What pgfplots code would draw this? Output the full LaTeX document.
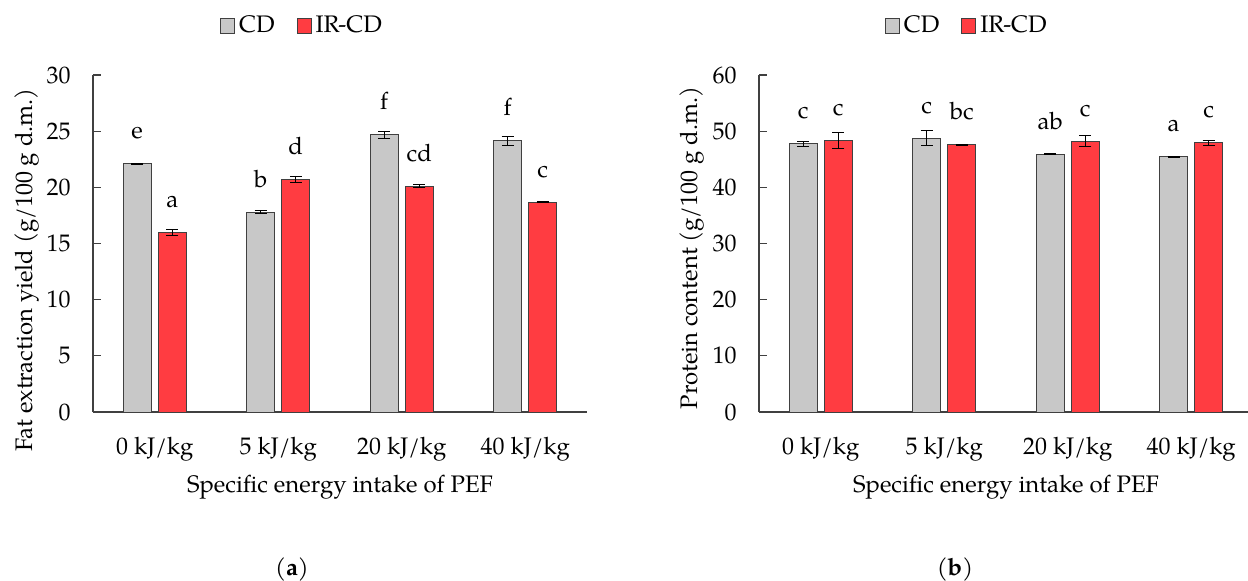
\documentclass[border=0pt,12pt]{standalone}
\usepackage{fontspec}
\setmainfont{TeX Gyre Pagella}
\usepackage{pgfplots}
\usepackage{pgfplotstable}
\pgfplotsset{compat=1.18}
\definecolor{cdgray}{HTML}{C8C8C8}
\definecolor{irred}{HTML}{FF3C41}
\definecolor{edge}{HTML}{404040}

\pgfplotstableread{
x y e l
0 22.09 0.05 e
1 17.79 0.16 b
2 24.67 0.34 f
3 24.16 0.41 f
}\fatCD
\pgfplotstableread{
x y e l
0 15.98 0.24 a
1 20.69 0.30 d
2 20.10 0.13 cd
3 18.68 0.03 c
}\fatIR
\pgfplotstableread{
x y e l
0 47.72 0.45 c
1 48.78 1.40 c
2 45.88 0.10 ab
3 45.41 0.05 a
}\protCD
\pgfplotstableread{
x y e l
0 48.37 1.45 c
1 47.54 0.10 bc
2 48.19 1.00 c
3 47.90 0.40 c
}\protIR

\pgfplotsset{
  panel/.style={
    scale only axis, height=168.5bp, anchor=south west,
    ymin=0, xmin=-0.5,
    axis x line*=bottom, axis y line*=left,
    axis line style={-, draw=black!75, line width=0.6bp},
    xtick={0,1,2,3}, xticklabels={0 kJ/kg,5 kJ/kg,20 kJ/kg,40 kJ/kg},
    x tick style={draw=none},
    tick align=inside, major tick length=4bp,
    y tick style={draw=black!75, line width=0.6bp},
    xticklabel style={inner sep=0pt, anchor=north, yshift=-8.5bp},
    yticklabel style={inner sep=0pt, anchor=east, xshift=-11bp},
    /pgf/number format/assume math mode=true,
    ybar, bar width=0.227,
    legend columns=2,
    legend style={draw=none, fill=none, anchor=center, inner sep=0pt,
      /tikz/every even column/.append style={column sep=9bp}},
    legend image code/.code={\draw[#1, draw=edge, line width=0.5bp] (0bp,-3.75bp) rectangle (7bp,3.75bp);},
    nodes near coords, point meta=explicit symbolic,
    every node near coord/.append style={anchor=base, yshift=12.5bp, inner sep=0pt, text=black},
  },
  barstyle/.style={draw=edge, line width=0.5bp,
    error bars/y dir=both, error bars/y explicit,
    error bars/error bar style={line width=0.5bp, draw=black},
    error bars/error mark options={rotate=90, line width=0.5bp, mark size=3bp, draw=black}},
}

\begin{document}
\begin{tikzpicture}
\useasboundingbox (0,0) rectangle (624bp,-290.5bp);

\begin{axis}[panel, at={(46.5bp,-206bp)}, width=247bp, xmax=3.5,
  ymax=30, ytick={0,5,...,30},
  legend style={at={(axis description cs:0.425,1.145)}}]
\addplot[barstyle, fill=cdgray, bar shift=-0.142] table[x=x, y=y, y error=e, meta=l] {\fatCD};
\addplot[barstyle, fill=irred, bar shift=0.142] table[x=x, y=y, y error=e, meta=l] {\fatIR};
\legend{CD, IR-CD}
\end{axis}

\begin{axis}[panel, at={(379.5bp,-206bp)}, width=244.5bp, xmax=3.46,
  ymax=60, ytick={0,10,...,60},
  legend style={at={(axis description cs:0.427,1.145)}}]
\addplot[barstyle, fill=cdgray, bar shift=-0.142] table[x=x, y=y, y error=e, meta=l] {\protCD};
\addplot[barstyle, fill=irred, bar shift=0.142] table[x=x, y=y, y error=e, meta=l] {\protIR};
\legend{CD, IR-CD}
\end{axis}

\node[rotate=90] at (13.5bp,-135bp) {Fat extraction yield (g/100 g d.m.)};
\node[rotate=90] at (346bp,-124bp) {Protein content (g/100 g d.m.)};
\node at (170bp,-243.5bp) {Specific energy intake of PEF};
\node at (503bp,-243.5bp) {Specific energy intake of PEF};
\node at (146bp,-285bp) {(\textbf{a})};
\node at (477.5bp,-285bp) {(\textbf{b})};
\end{tikzpicture}
\end{document}
